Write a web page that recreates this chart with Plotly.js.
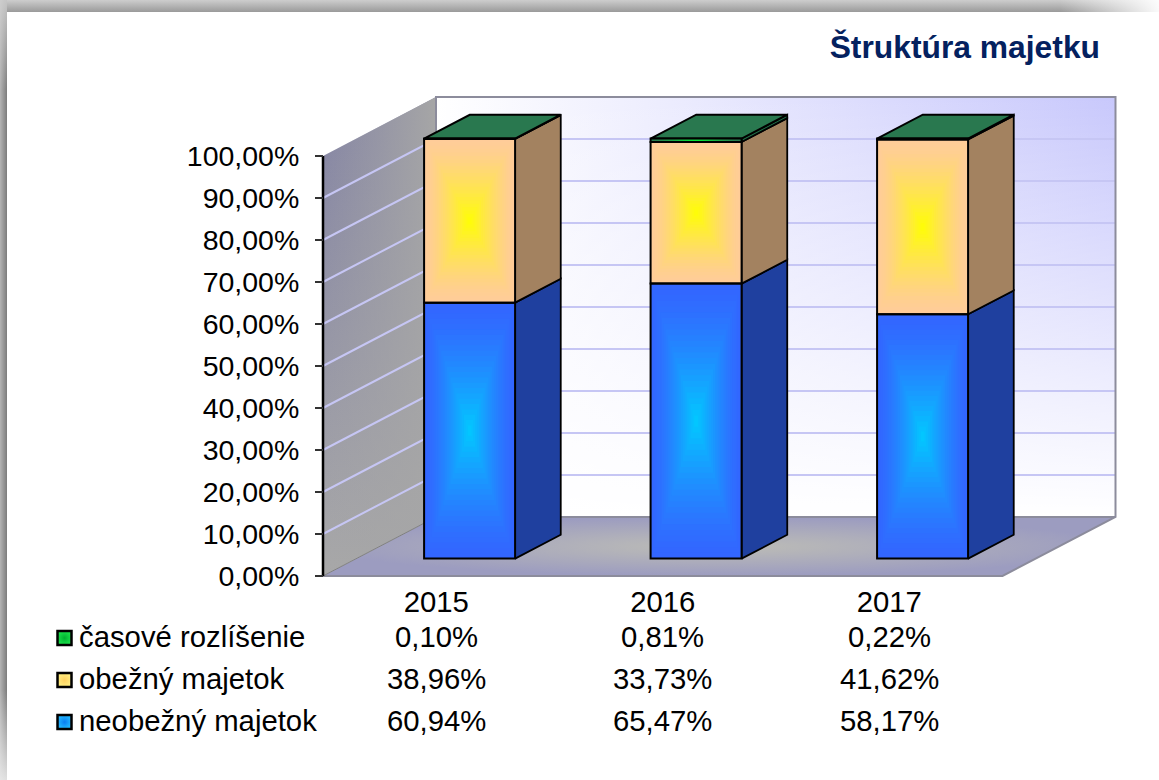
<!DOCTYPE html>
<html><head><meta charset="utf-8">
<script src="https://cdn.plot.ly/plotly-3.0.1.min.js"></script>
<style>html,body{margin:0;padding:0;background:#fff}#c{width:1159px;height:780px}</style>
</head><body><div id="c"></div>
<script>
const years = ['2015','2016','2017'];
const neobezny = [60.94,65.47,58.17];
const obezny = [38.96,33.73,41.62];
const casove = [0.10,0.81,0.22];
const yTicks = [0,10,20,30,40,50,60,70,80,90,100];
const seriesNames = ['časové rozlíšenie','obežný majetok','neobežný majetok'];

const W=1159,H=780;
const pxCat=226.5, pxPct=4.2;        // front plane scale
const x0px=323, y0px=576;
const X=p=>0.5+(p-x0px)/pxCat;
const Y=p=>(y0px-p)/pxPct;
const depthX=113/pxCat, depthY=59/pxPct;
const P=(c,v,d)=>[c+d*depthX, v+d*depthY];
const dFront=0.295, dBack=0.699, halfW=45.5/pxCat;
const FONT='"Liberation Sans", Arial, sans-serif';
const cats=[1,2,3];
const traces=[];
const poly=(pts,o)=>Object.assign({type:'scatter',mode:'lines',x:pts.concat([pts[0]]).map(p=>p[0]),y:pts.concat([pts[0]]).map(p=>p[1]),fill:'toself',hoverinfo:'skip',showlegend:false,line:{width:0}},o);
const rectPx=(a,b,c,d)=>[[X(a),Y(b)],[X(c),Y(b)],[X(c),Y(d)],[X(a),Y(d)]];
const grad=(type,a,b)=>({fillcolor:a,fillgradient:{type:type,colorscale:[[0,a],[1,b]]}});

// page frame
traces.push(poly(rectPx(0,0,W,12),grad('vertical','#9a9a9a','#cdcdcd')));
traces.push(poly(rectPx(1060,0,W,12),grad('horizontal','rgba(255,255,255,0)','rgba(255,255,255,0.95)')));
traces.push(poly(rectPx(0,0,7,H),grad('horizontal','#b4b4b4','#7c7c7c')));
traces.push(poly(rectPx(0,0,7,90),grad('vertical','rgba(210,210,210,0)','rgba(210,210,210,0.85)')));
traces.push(poly(rectPx(0,690,7,H),grad('vertical','rgba(235,235,235,0.9)','rgba(235,235,235,0)')));

// walls
const wall=[P(0.5,0,1),P(3.5,0,1),P(3.5,100,1),P(0.5,100,1)];
traces.push(poly(wall,grad('horizontal','#ffffff','#c8c8fc')));
traces.push(poly(wall,grad('vertical','rgba(255,255,255,1)','rgba(255,255,255,0)')));
const floorPts=[P(0.5,0,0),P(3.5,0,0),P(3.5,0,1),P(0.5,0,1)];
traces.push(poly(floorPts,grad('radial','#bdbdb6','#9c9cc0')));
const left=[P(0.5,0,0),P(0.5,0,1),P(0.5,100,1),P(0.5,100,0)];
traces.push(poly(left,grad('vertical','#a8a8a8','#8484a4')));
traces.push(poly(left,grad('horizontal','rgba(166,166,166,0)','rgba(166,166,166,1)')));

// gridlines
const gx=[],gy=[];
yTicks.slice(1,-1).forEach(v=>{
  const a=P(0.5,v,0),b=P(0.5,v,1),c=P(3.5,v,1);
  gx.push(a[0],b[0],c[0],null);gy.push(a[1],b[1],c[1],null);
});
traces.push({type:'scatter',mode:'lines',x:gx,y:gy,line:{color:'#c6c6f4',width:2},hoverinfo:'skip',showlegend:false});
// wall borders
const bOut=[P(0.5,0,0),P(3.5,0,0),P(3.5,0,1),P(3.5,100,1),P(0.5,100,1),P(0.5,0,1),P(3.5,0,1)];
traces.push({type:'scatter',mode:'lines',x:bOut.map(p=>p[0]),y:bOut.map(p=>p[1]),line:{color:'#8c8c9c',width:2},hoverinfo:'skip',showlegend:false});
const b2=[P(0.5,0,0),P(0.5,0,1)];
traces.push({type:'scatter',mode:'lines',x:b2.map(p=>p[0]),y:b2.map(p=>p[1]),line:{color:'#808080',width:1},hoverinfo:'skip',showlegend:false});
const ax=[P(0.5,0,0),P(0.5,100,0)];
traces.push({type:'scatter',mode:'lines',x:ax.map(p=>p[0]),y:ax.map(p=>p[1]),line:{color:'#000',width:2.5},hoverinfo:'skip',showlegend:false});

// bar sides and tops
const segments=[
 {name:seriesNames[2],vals:neobezny,side:'#1f409f',edge:[51,102,255],center:[0,204,255]},
 {name:seriesNames[1],vals:obezny,side:'#a38260',edge:[255,204,153],center:[255,255,0]},
 {name:seriesNames[0],vals:casove,side:'#1f6b45',edge:[41,120,79],center:[0,255,51]}
];
const baseOf=(si,i)=>{let s=0;for(let k=0;k<si;k++)s+=segments[k].vals[i];return s;};
cats.forEach((c,i)=>{
  segments.forEach((sg,si)=>{
    const a=baseOf(si,i), b=a+sg.vals[i];
    const side=[P(c+halfW,a,dFront),P(c+halfW,a,dBack),P(c+halfW,b,dBack),P(c+halfW,b,dFront)];
    traces.push(poly(side,{fillcolor:sg.side,line:{color:'#000',width:1.8}}));
  });
  const t=baseOf(3,i);
  const top=[P(c-halfW,t,dFront),P(c+halfW,t,dFront),P(c+halfW,t,dBack),P(c-halfW,t,dBack)];
  traces.push(poly(top,{fillcolor:'#29784f',line:{color:'#000',width:2}}));
});

// front faces: real bars on an overlaying axis so they sit above the walls
const STEPS=24;
const fx=cats.map(c=>c+dFront*depthX);
const basesOf=si=>cats.map((c,i)=>baseOf(si,i)+dFront*depthY);
segments.forEach((sg,si)=>{
  const bases=basesOf(si);
  traces.push({type:'bar',xaxis:'x2',yaxis:'y2',name:sg.name,x:fx,y:sg.vals,base:bases,width:2*halfW,
    marker:{color:`rgb(${sg.edge})`,line:{width:0}},hoverinfo:'skip',showlegend:false});
  for(let s=1;s<STEPS;s++){
    const t=s/STEPS, m=Math.pow(t,1.4);
    const col=sg.edge.map((e,k)=>Math.round(e+(sg.center[k]-e)*m));
    traces.push({type:'bar',xaxis:'x2',yaxis:'y2',x:fx,
      y:sg.vals.map(v=>v*(1-t)),
      base:bases.map((b,i)=>b+sg.vals[i]*t/2),
      width:2*halfW*(1-t),
      marker:{color:`rgb(${col})`,line:{width:0}},hoverinfo:'skip',showlegend:false});
  }
});
// black outlines above the gradient steps
segments.forEach((sg,si)=>{
  traces.push({type:'bar',xaxis:'x2',yaxis:'y2',x:fx,y:sg.vals,base:basesOf(si),width:2*halfW,
    marker:{color:'rgba(0,0,0,0)',line:{color:'#000',width:2}},hoverinfo:'skip',showlegend:false});
});

// legend keys
const rowPx=[638,680,722];
const keyCols=[['#00b030','#19e04a'],['#ffd060','#ffee80'],['#0a7cf0','#22b8ff']];
rowPx.forEach((r,i)=>traces.push({type:'scatter',mode:'markers',x:[X(64.5)],y:[Y(r)],hoverinfo:'skip',showlegend:false,
  marker:{symbol:'square',size:14,color:keyCols[i][1],gradient:{type:'radial',color:keyCols[i][0]},line:{color:'#000',width:2.5}}}));

const fmt=v=>v.toFixed(2).replace('.',',')+'%';
const rows=[casove,obezny,neobezny];
const ann=[];
const textLift=1.5/pxPct;
rows.forEach((vals,r)=>{
  ann.push({xref:'x',yref:'y',x:X(77),y:Y(rowPx[r])+textLift,xanchor:'left',yanchor:'middle',text:seriesNames[r],showarrow:false,font:{family:FONT,size:29.3,color:'#000'}});
  vals.forEach((v,i)=>ann.push({xref:'x',yref:'y',x:cats[i],y:Y(rowPx[r])+textLift,xanchor:'center',yanchor:'middle',text:fmt(v),showarrow:false,font:{family:FONT,size:29.3,color:'#000'}}));
});

const xr=[X(0),X(W)], yr=[Y(H),Y(0)];
const layout={width:W,height:H,margin:{l:0,r:0,t:0,b:0,autoexpand:false},paper_bgcolor:'#fff',plot_bgcolor:'rgba(0,0,0,0)',
 barmode:'overlay',showlegend:false,hovermode:false,
 title:{text:'Štruktúra majetku',x:1100/W,xanchor:'right',xref:'paper',y:1-47/H,yanchor:'middle',yref:'paper',font:{family:FONT,size:31.8,color:'#04215f',weight:700}},
 xaxis:{range:xr,anchor:'free',position:1-y0px/H,tickmode:'array',tickvals:cats,ticktext:years,ticks:'',showgrid:false,zeroline:false,showline:false,ticklabelstandoff:6,tickfont:{family:FONT,size:29.3,color:'#000'},fixedrange:true},
 yaxis:{range:yr,anchor:'free',position:x0px/W,tickmode:'array',tickvals:yTicks,ticktext:yTicks.map(v=>v.toFixed(2).replace('.',',')+'%'),ticks:'outside',ticklen:8,tickcolor:'#333',tickwidth:1.2,showgrid:false,zeroline:false,showline:false,ticklabelstandoff:10,tickfont:{family:FONT,size:28.5,color:'#000'},fixedrange:true},
 xaxis2:{range:xr,overlaying:'x',visible:false,fixedrange:true},
 yaxis2:{range:yr,overlaying:'y',visible:false,fixedrange:true},
 annotations:ann};
Plotly.newPlot('c',traces,layout,{displayModeBar:false,staticPlot:true});
</script></body></html>
